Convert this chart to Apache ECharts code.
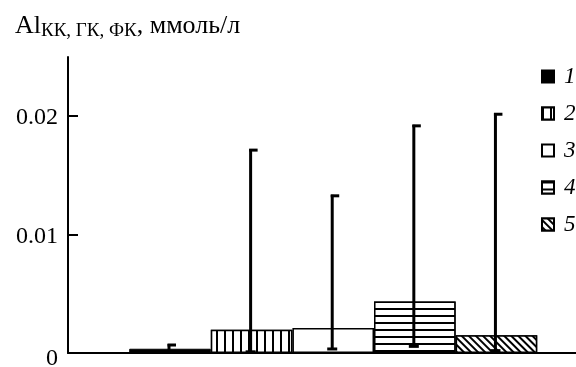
<!DOCTYPE html>
<html>
<head>
<meta charset="utf-8">
<script src="https://cdn.jsdelivr.net/npm/echarts@6/dist/echarts.min.js"></script>
<style>html,body{margin:0;padding:0;background:#fff;}#c{width:576px;height:367px;}</style>
</head>
<body>
<div id="c"></div>
<script>
// Data
const seriesNames = ['1', '2', '3', '4', '5'];
const xPositions = [1, 2, 3, 4, 5];
const barValues = [0.00036, 0.00197, 0.00211, 0.00435, 0.00149];
const errLow = [0.0001, 0.0001, 0.00034, 0.00056, 0.0002];
const errHigh = [0.00076, 0.01722, 0.01336, 0.01927, 0.02025];
const yTicks = [0, 0.01, 0.02];
const yTickLabels = ['0', '0.01', '0.02'];

const FONT = '"Liberation Serif", "DejaVu Serif", serif';

const styles = [
  { color: '#000', borderColor: '#000', borderWidth: 1 },
  { color: '#fff', borderColor: '#000', borderWidth: 1.5,
    decal: { symbol: 'rect', symbolSize: 1, color: '#000', backgroundColor: '#fff', dashArrayX: [2, 6], dashArrayY: [1, 0] } },
  { color: '#fff', borderColor: '#000', borderWidth: 1.5 },
  { color: '#fff', borderColor: '#000', borderWidth: 1.5,
    decal: { symbol: 'rect', symbolSize: 1, color: '#000', backgroundColor: '#fff', dashArrayX: [1, 0], dashArrayY: [2, 5] } },
  { color: '#fff', borderColor: '#000', borderWidth: 1.5,
    decal: { symbol: 'rect', symbolSize: 1, color: '#000', backgroundColor: '#fff', dashArrayX: [1, 0], dashArrayY: [2, 3], rotation: Math.PI / 4 } }
];

const barSeries = seriesNames.map((name, i) => ({
  name: name,
  type: 'bar',
  barWidth: 81.6,
  barGap: '-100%',
  data: [[xPositions[i], barValues[i]]],
  itemStyle: styles[i],
  z: 2
}));

const errSeries = {
  type: 'custom',
  name: 'err',
  z: 5,
  silent: true,
  data: xPositions.map((x, i) => [x, errLow[i], errHigh[i]]),
  renderItem: function (params, api) {
    const x = api.value(0);
    const lo = api.coord([x, api.value(1)]);
    const hi = api.coord([x, api.value(2)]);
    const cx = lo[0] - 1;
    return {
      type: 'group',
      children: [
        { type: 'line', shape: { x1: cx, y1: lo[1], x2: cx, y2: hi[1] }, style: { stroke: '#000', lineWidth: 3 } },
        { type: 'line', shape: { x1: cx - 1.5, y1: hi[1] + 1, x2: cx + 7, y2: hi[1] + 1 }, style: { stroke: '#000', lineWidth: 3 } },
        { type: 'line', shape: { x1: cx - 5, y1: lo[1], x2: cx + 5, y2: lo[1] }, style: { stroke: '#000', lineWidth: 3 } }
      ]
    };
  }
};

const chart = echarts.init(document.getElementById('c'), null, { renderer: 'canvas' });
chart.setOption({
  animation: false,
  backgroundColor: '#fff',
  title: {
    text: '{a|Al}{b|КК, ГК, ФК}{a|, ммоль/л}',
    left: 10,
    top: 8,
    textStyle: {
      fontWeight: 'normal',
      rich: {
        a: { fontFamily: FONT, fontSize: 26, fontWeight: 'normal', color: '#000', verticalAlign: 'top', lineHeight: 27 },
        b: { fontFamily: FONT, fontSize: 19, fontWeight: 'normal', color: '#000', verticalAlign: 'top', lineHeight: 27, padding: [9, 0, 0, 0] }
      }
    }
  },
  legend: {
    data: seriesNames,
    orient: 'vertical',
    left: 541,
    top: 65,
    padding: 0,
    itemWidth: 12,
    itemHeight: 12,
    itemGap: 14,
    icon: 'rect',
    textStyle: { fontFamily: FONT, fontSize: 23, fontStyle: 'italic', color: '#000', padding: [0, 0, 0, 5] }
  },
  grid: { left: 68, right: 0, top: 57, bottom: 14, containLabel: false, outerBoundsMode: 'none' },
  xAxis: {
    type: 'value',
    min: -0.25,
    max: 5.975,
    axisLine: { show: true, onZero: false, lineStyle: { color: '#000', width: 2 } },
    axisTick: { show: false },
    axisLabel: { show: false },
    splitLine: { show: false }
  },
  yAxis: {
    type: 'value',
    min: 0,
    max: 0.025,
    axisLine: { show: true, onZero: false, lineStyle: { color: '#000', width: 2 } },
    axisTick: { show: true, inside: true, length: 10, lineStyle: { color: '#000', width: 2 }, customValues: yTicks },
    axisLabel: {
      customValues: yTicks,
      fontFamily: FONT, fontSize: 24, color: '#000', margin: 10,
      padding: [4, 0, 0, 0],
      formatter: function (v) {
        const k = yTicks.indexOf(v);
        if (k < 0) return '';
        return k === 0 ? '{z|' + yTickLabels[k] + '}' : yTickLabels[k];
      },
      rich: { z: { fontFamily: FONT, fontSize: 24, color: '#000', padding: [8, 0, 0, 0] } }
    },
    splitLine: { show: false }
  },
  series: barSeries.concat([errSeries])
});
</script>
</body>
</html>
